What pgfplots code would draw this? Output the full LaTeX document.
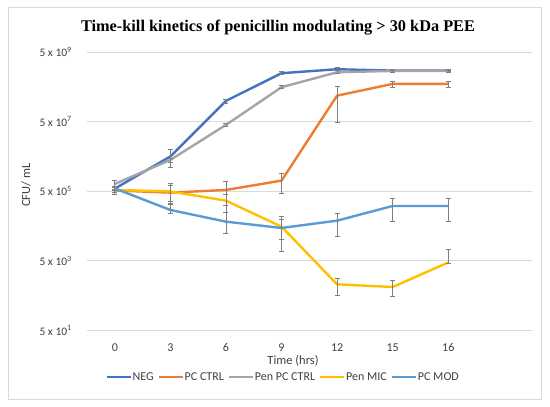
\documentclass[border=0pt]{standalone}
\usepackage{fontspec}
\setmainfont{Carlito}
\newfontfamily\titlefont{Liberation Serif}
\usepackage{pgfplots}
\pgfplotsset{compat=1.18}
\definecolor{cneg}{HTML}{4472C4}
\definecolor{cpc}{HTML}{ED7D31}
\definecolor{cpen}{HTML}{A5A5A5}
\definecolor{cmic}{HTML}{FFC000}
\definecolor{cmod}{HTML}{5B9BD5}
\definecolor{gridc}{HTML}{D9D9D9}
\definecolor{errc}{HTML}{7F7F7F}
\definecolor{txtc}{HTML}{404040}
\begin{document}
\begin{tikzpicture}[x=1bp,y=1bp]
\useasboundingbox (0,0) rectangle (550,406);
\fill[white] (0,0) rectangle (550,406);
\draw[color=gridc, line width=0.8bp] (8,7) rectangle (541,399);
\begin{axis}[
  at={(87bp,75.5bp)}, anchor=south west,
  scale only axis, width=444.6bp, height=278.5bp,
  ymode=log, log basis y=10,
  xmin=-0.5, xmax=7.5, ymin=50, ymax=5e9,
  xtick={0,1,2,3,4,5,6}, xticklabels={0,3,6,9,12,15,16},
  ytick={5e1,5e3,5e5,5e7,5e9},
  yticklabels={5 x 10\textsuperscript{1},5 x 10\textsuperscript{3},5 x 10\textsuperscript{5},5 x 10\textsuperscript{7},5 x 10\textsuperscript{9}},
  axis line style={draw=none},
  major tick length=0pt, minor tick num=0,
  ymajorgrids, grid style={color=gridc, line width=0.8bp},
  yticklabel style={anchor=east, inner sep=0pt, font=\fontsize{11.5bp}{13bp}\selectfont, color=txtc},
  yticklabel shift=15bp,
  xticklabel style={anchor=base, inner sep=0pt, font=\fontsize{12bp}{14bp}\selectfont, color=txtc},
  xticklabel shift=20.5bp,
  legend style={at={(0.4397,-0.167)}, anchor=center, draw=none, fill=none,
    font=\fontsize{12bp}{14bp}\selectfont, text=txtc,
    /tikz/every even column/.append style={column sep=3.5bp},
    nodes={inner sep=0.6bp}},
  legend columns=-1,
  legend image code/.code={\draw[#1, line width=2.4bp] (0bp,0bp) -- (24bp,0bp);},
  every axis plot/.append style={line width=2.4bp, line join=round, mark=none},
  error bars/y dir=both, error bars/y explicit,
  error bars/error bar style={line width=0.8bp, color=errc},
  error bars/error mark options={line width=0.8bp, color=errc, mark size=2.5bp, rotate=90},
]
\addplot[color=cneg] coordinates {
 (0,5.94e5) +- (0,0.8e5)
 (1,5.0e6) += (0,3.0e6) -= (0,2.5e6)
 (2,1.97e8) +- (0,2.7e7)
 (3,1.23e9) +- (0,1.2e8)
 (4,1.60e9) +- (0,1.6e8)
 (5,1.46e9) +- (0,1.0e8)
 (6,1.46e9) +- (0,1.0e8)
};
\addlegendentry{NEG}
\addplot[color=cpc] coordinates {
 (0,5.27e5) +- (0,1.1e5)
 (1,4.56e5) += (0,4.1e5) -= (0,2.25e5)
 (2,5.45e5) += (0,4.0e5) -= (0,3.5e5)
 (3,1.01e6) +- (0,5.7e5)
 (4,2.79e8) +- (0,2.3e8)
 (5,6.06e8) +- (0,1.1e8)
 (6,6.06e8) +- (0,1.1e8)
};
\addlegendentry{PC CTRL}
\addplot[color=cpen] coordinates {
 (0,8.1e5) += (0,2.0e5) -= (0,2.6e5)
 (1,3.97e6) +- (0,5.5e5)
 (2,4.02e7) +- (0,4.0e6)
 (3,4.87e8) +- (0,5.0e7)
 (4,1.31e9) +- (0,1.3e8)
 (5,1.43e9) +- (0,9.0e7)
 (6,1.43e9) +- (0,9.0e7)
};
\addlegendentry{Pen PC CTRL}
\addplot[color=cmic] coordinates {
 (0,5.45e5) +- (0,0.8e5)
 (1,4.94e5) +- (0,2.4e5)
 (2,2.69e5) +- (0,1.45e5)
 (3,4.81e4) += (0,4.9e4) -= (0,3.9e4)
 (4,1.06e3) +- (0,5.5e2)
 (5,8.89e2) += (0,5.2e2) -= (0,4.2e2)
 (6,4.50e3) += (0,6.1e3) -= (0,3.0e2)
};
\addlegendentry{Pen MIC}
\addplot[color=cmod] coordinates {
 (0,6.02e5) +- (0,0.8e5)
 (1,1.45e5) += (0,6.0e4) -= (0,3.0e4)
 (2,6.69e4) += (0,5.4e4) -= (0,3.6e4)
 (3,4.41e4) += (0,3.4e4) -= (0,2.4e4)
 (4,7.15e4) +- (0,4.7e4)
 (5,1.89e5) +- (0,1.2e5)
 (6,1.89e5) +- (0,1.2e5)
};
\addlegendentry{PC MOD}
\end{axis}
\node[font=\titlefont\bfseries\fontsize{16.3bp}{19bp}\selectfont, anchor=base, text=black] at (278,375) {Time-kill kinetics of penicillin modulating > 30 kDa PEE};
\node[font=\fontsize{12.5bp}{15bp}\selectfont, rotate=90, text=txtc] at (26,221) {CFU/ mL};
\node[font=\fontsize{12.5bp}{15bp}\selectfont, text=txtc] at (293,45.5) {Time (hrs)};
\end{tikzpicture}
\end{document}
